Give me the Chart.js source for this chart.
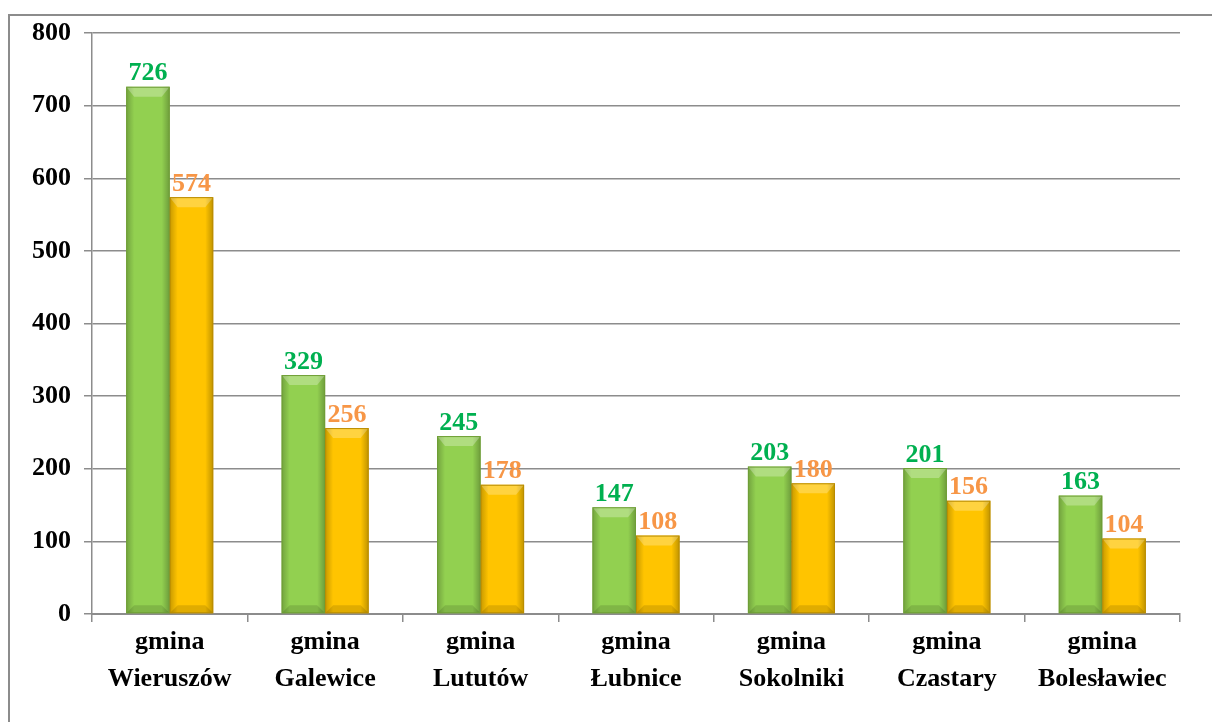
<!DOCTYPE html>
<html>
<head>
<meta charset="utf-8">
<script src="https://cdn.jsdelivr.net/npm/chart.js"></script>
<style>
  body { margin: 0; background: #fff; }
  .frame {
    position: absolute; left: 8px; top: 14px;
    width: 1300px; height: 800px;
    border: 2px solid #8c8c8c;
  }
  .wrap { position: absolute; left: 0; top: 0; width: 1212px; height: 722px; }
</style>
</head>
<body>
<div class="frame"></div>
<div class="wrap"><canvas id="chart"></canvas></div>

<script>
// ==========================
// DATA
// ==========================
const categories = [
  ["gmina", "Wieruszów"],
  ["gmina", "Galewice"],
  ["gmina", "Lututów"],
  ["gmina", "Łubnice"],
  ["gmina", "Sokolniki"],
  ["gmina", "Czastary"],
  ["gmina", "Bolesławiec"]
];
const seriesA = [726, 329, 245, 147, 203, 201, 163];
const seriesB = [574, 256, 178, 108, 180, 156, 104];
const yTicks = [0, 100, 200, 300, 400, 500, 600, 700, 800];

const serif = "'Liberation Serif', 'Times New Roman', serif";

// bevel shading + value labels drawn on top of the library's bars
const bevelPlugin = {
  id: "bevel",
  afterDatasetsDraw(chart) {
    const ctx = chart.ctx;
    const labelColors = ["#00B050", "#F79646"];
    const edgeColors = ["#6f9e36", "#b98c00"];
    const topColors = ["rgba(255,255,255,0.28)", "rgba(255,255,255,0.25)"];
    chart.data.datasets.forEach((ds, di) => {
      const meta = chart.getDatasetMeta(di);
      meta.data.forEach((bar, i) => {
        const x0 = bar.x - bar.width / 2, x1 = bar.x + bar.width / 2;
        const top = bar.y, bottom = bar.base;
        const e = 8;
        ctx.save();
        // left edge
        let g = ctx.createLinearGradient(x0, 0, x0 + e, 0);
        g.addColorStop(0, "rgba(0,0,0,0.22)");
        g.addColorStop(1, "rgba(0,0,0,0)");
        ctx.fillStyle = g;
        ctx.fillRect(x0, top, e, bottom - top);
        // right edge
        g = ctx.createLinearGradient(x1 - e, 0, x1, 0);
        g.addColorStop(0, "rgba(0,0,0,0)");
        g.addColorStop(1, "rgba(0,0,0,0.25)");
        ctx.fillStyle = g;
        ctx.fillRect(x1 - e, top, e, bottom - top);
        // top bevel
        ctx.fillStyle = topColors[di];
        ctx.beginPath();
        ctx.moveTo(x0, top);
        ctx.lineTo(x1, top);
        ctx.lineTo(x1 - e, top + e + 2);
        ctx.lineTo(x0 + e, top + e + 2);
        ctx.closePath();
        ctx.fill();
        // bottom bevel
        ctx.fillStyle = "rgba(0,0,0,0.12)";
        ctx.beginPath();
        ctx.moveTo(x0, bottom);
        ctx.lineTo(x1, bottom);
        ctx.lineTo(x1 - e, bottom - e);
        ctx.lineTo(x0 + e, bottom - e);
        ctx.closePath();
        ctx.fill();
        // outline
        ctx.strokeStyle = edgeColors[di];
        ctx.lineWidth = 1;
        ctx.strokeRect(x0 + 0.5, top + 0.5, bar.width - 1, bottom - top - 1);
        // value label
        ctx.fillStyle = labelColors[di];
        ctx.font = "bold 26px " + serif;
        ctx.textAlign = "center";
        ctx.textBaseline = "bottom";
        ctx.fillText(ds.data[i], bar.x, top);
        ctx.restore();
      });
    });
  }
};

new Chart(document.getElementById("chart"), {
  type: "bar",
  data: {
    labels: categories,
    datasets: [
      { data: seriesA, backgroundColor: "#92D050" },
      { data: seriesB, backgroundColor: "#FFC400" }
    ]
  },
  options: {
    responsive: true,
    maintainAspectRatio: false,
    animation: false,
    events: [],
    layout: { padding: { left: 0, right: 32, top: 33, bottom: 0 } },
    plugins: {
      legend: { display: false },
      tooltip: { enabled: false }
    },
    datasets: {
      bar: { categoryPercentage: 0.56, barPercentage: 1.0 }
    },
    scales: {
      x: {
        afterFit: (s) => { s.height = 108; },
        grid: {
          offset: true,
          drawOnChartArea: false,
          color: "#8c8c8c",
          lineWidth: 1.5,
          tickLength: 8
        },
        border: { color: "#8c8c8c", width: 2 },
        ticks: {
          color: "#000",
          padding: 2,
          maxRotation: 0,
          font: { family: serif, size: 26, weight: "bold", lineHeight: 1.42 }
        }
      },
      y: {
        min: 0,
        max: 800,
        afterFit: (s) => { s.width = 92; },
        afterBuildTicks: (s) => { s.ticks = yTicks.map((v) => ({ value: v })); },
        grid: {
          color: "#8c8c8c",
          lineWidth: 1.5,
          tickLength: 8
        },
        border: { color: "#8c8c8c", width: 1.5 },
        ticks: {
          color: "#000",
          padding: 13,
          font: { family: serif, size: 26, weight: "bold" }
        }
      }
    }
  },
  plugins: [bevelPlugin]
});
</script>
</body>
</html>
